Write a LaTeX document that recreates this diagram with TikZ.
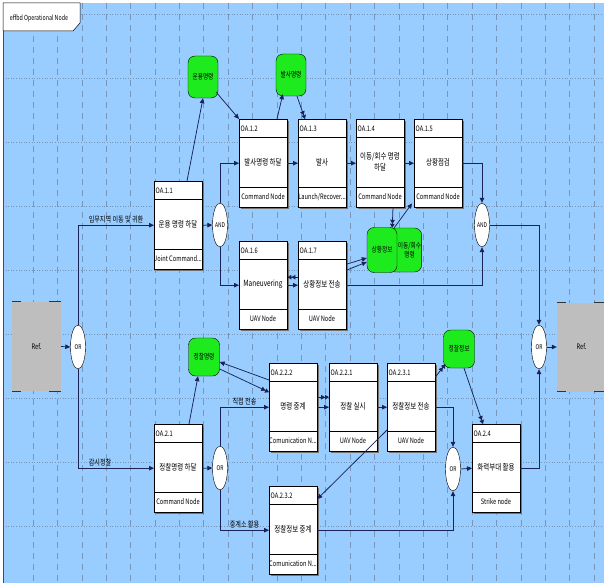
\documentclass[tikz,border=0pt]{standalone}
\usepackage{fontspec}
\setmainfont{Noto Sans CJK KR}[FakeStretch=0.76]
\usetikzlibrary{arrows.meta,shapes.geometric,calc}
\definecolor{bg}{RGB}{153,204,255}
\definecolor{gridc}{RGB}{120,150,185}
\definecolor{linec}{RGB}{25,35,85}
\definecolor{gr}{RGB}{30,235,30}
\definecolor{refc}{RGB}{190,190,190}
\tikzset{
 every node/.style={font=\fontsize{7.5}{8.5}\selectfont, inner sep=0.5pt},
 conn/.style={draw=linec, line width=0.75pt, -{Triangle[length=5pt,width=4.5pt]}},
 conn2/.style={draw=linec, line width=0.75pt, -{Triangle[length=4pt,width=4.5pt]Triangle[length=4pt,width=4.5pt]}},
 gate/.style={ellipse, draw=black, fill=white, minimum width=15pt, minimum height=44pt, inner sep=0pt, font=\fontsize{6.5}{7}\selectfont},
 msg/.style={rounded corners=7pt, draw=black, fill=gr, minimum width=30pt, minimum height=42pt, align=center, font=\fontsize{7.5}{9}\selectfont},
 oabox/.style={draw=black, fill=white, minimum height=88pt, anchor=north west, inner sep=0pt},
 lbl/.style={font=\fontsize{8.5}{10.5}\selectfont},
 edgelbl/.style={font=\fontsize{8}{9}\selectfont},
 reflbl/.style={fill=refc, minimum width=49pt, minimum height=89pt, font=\fontsize{7.5}{8}\selectfont},
 refmark/.style={line width=1.3pt, black!80},
}
% #1 width, #2 name, #3 x, #4 y, #5 header, #6 body, #7 footer
\newcommand{\oabx}[7][48]{%
  \fill[black!55] (#3+2,#4+2) rectangle (#3+#1+2,#4+90);
  \node[oabox, minimum width=#1pt] (#2) at (#3,#4) {};
  \draw (#3,#4+18) -- (#3+#1,#4+18);
  \draw (#3,#4+68) -- (#3+#1,#4+68);
  \node[anchor=west] (#2-h) at (#3+1,#4+9.5) {#5};
  \node[align=center, lbl] (#2-b) at (#3+#1/2,#4+43) {#6};
  \node (#2-f) at (#3+#1/2,#4+78) {#7};
}
\begin{document}
\begin{tikzpicture}[x=1pt,y=-1pt]
\useasboundingbox (0,0) rectangle (604,583);
\clip (0,0) rectangle (604,583);
\fill[white] (0,0) rectangle (604,583);
\fill[bg] (3,3) rectangle (604,583);
% grid
\foreach \i in {1,...,24} \draw[gridc, line width=0.45pt, dash pattern=on 6pt off 5pt] (8.6+24.39*\i,3) -- (8.6+24.39*\i,583);
\foreach \yy in {14,78,142,206,270,334,398,462,526} \draw[gridc, line width=0.6pt, dotted] (3,\yy) -- (604,\yy);
\draw[black!70, line width=0.6pt] (3,583) -- (3,3);
% tab
\draw[fill=white, line width=0.5pt] (3,3) -- (80,3) -- (80,23) -- (73,31) -- (3,31) -- cycle;
\node[font=\fontsize{7}{8}\selectfont] (tab) at (39,18) {effbd Operational Node};

% reference nodes
\node[reflbl] (refL) at (36.5,346.5) {Ref.};
\node[reflbl] (refR) at (581.5,347) {Ref.};
\foreach \r in {refL,refR}{
  \draw[refmark] (\r.north west) -- ++(9,0);
  \draw[refmark] (\r.north east) -- ++(-12,0);
  \draw[refmark] (\r.south west) -- ++(9,0);
  \draw[refmark] (\r.south east) -- ++(-12,0);
}

% gates
\node[gate] (orL) at (78,347) {OR};
\node[gate] (and1) at (220,225) {AND};
\node[gate] (and2) at (482,225) {AND};
\node[gate] (orR) at (539,347) {OR};
\node[gate] (orM) at (220,468) {OR};
\node[gate] (orR3) at (453,469) {OR};

% activity boxes
\oabx{oa11}{154}{181}{OA.1.1}{운용 명령 하달}{Joint Command...}
\oabx{oa12}{239}{119}{OA.1.2}{발사명령 하달}{Command Node}
\oabx{oa13}{298}{119}{OA.1.3}{발사}{Launch/Recover...}
\oabx{oa14}{356}{119}{OA.1.4}{이동/회수 명령\\하달}{Command Node}
\oabx{oa15}{414}{119}{OA.1.5}{상황점검}{Command Node}
\oabx{oa16}{239}{241}{OA.1.6}{Maneuvering}{UAV Node}
\oabx{oa17}{298}{241}{OA.1.7}{상황정보 전송}{UAV Node}
\oabx{oa21}{154}{424}{OA.2.1}{정찰명령 하달}{Command Node}
\oabx{oa222}{269}{363}{OA.2.2.2}{명령 중계}{Comunication N...}
\oabx{oa221}{329}{363}{OA.2.2.1}{정찰 실시}{UAV Node}
\oabx{oa231}{387}{363}{OA.2.3.1}{정찰정보 전송}{UAV Node}
\oabx{oa24}{472}{424}{OA.2.4}{화력부대 활용}{Strike node}
\oabx{oa232}{269}{486}{OA.2.3.2}{정찰정보 중계}{Comunication N...}

% message nodes
\node[msg] (g1) at (203,77) {운용명령};
\node[msg] (g2) at (291,75) {발사명령};
\node[msg, minimum width=28pt, minimum height=44pt] (g3) at (405,250) {\hspace*{9pt}이동/회수\\\hspace*{9pt}명령};
\node[msg, minimum height=45pt] (g4) at (382,250) {상황정보};
\node[msg, minimum width=31pt, minimum height=38pt] (g5) at (204,357) {정찰명령};
\node[msg, minimum width=31pt, minimum height=38pt] (g6) at (459,349) {정찰정보};

% top route
\draw[conn] (refL.east) -- (orL.west);
\draw[conn] (orL.north) |- (oa11.west) node[pos=0.75, above=1pt, edgelbl] (t1) {임무지역 이동 및 귀환};
\draw[conn] (orL.south) |- (oa21.west) node[pos=0.645, above=1pt, edgelbl] (t2) {감시정찰};
\draw[conn] (oa11.east) -- (and1.west);
\draw[conn] (and1.north) |- (oa12.west);
\draw[conn] (and1.south) |- (oa16.west);
\draw[conn] (oa12.east) -- (oa13.west);
\draw[conn] (oa13.east) -- (oa14.west);
\draw[conn] (oa14.east) -- (oa15.west);
\draw[conn] (oa15.east) -| (and2.north);
\draw[conn] (oa17.east) -| (and2.south);
\draw[conn] (and2.east) -| (orR.north);
\draw[conn] (oa24.east) -| (orR.south);
\draw[conn] (orR.east) -- (refR.west);
\draw[conn] (oa16.east) -- (oa17.west);
\draw[conn2] ($(oa17.west)+(0,-8)$) -- ($(oa16.east)+(0,-8)$);

\draw[conn] ($(oa11.north west)+(33,0)$) -- (g1.south);
\draw[conn] ($(g1.south east)+(-2,-6)$) -- (oa12.north west);
\draw[conn] ($(oa12.north west)+(38,0)$) -- ($(g2.south west)+(7,-2)$);
\draw[conn2] ($(g2.south)+(6,0)$) -- ($(oa13.north west)+(7,0)$);
\draw[conn2] ($(oa14.south west)+(37,0)$) -- ($(g3.north west)+(4,0)$);
\draw[conn] ($(g3.north west)+(6,0)$) -- ($(oa15.south west)+(-2,-4)$);
\draw[conn] ($(oa17.east)+(0,-21)$) -- ($(g4.west)+(0,8)$);
\draw[conn] ($(oa17.east)+(0,-15)$) -- ($(g4.west)+(0,12)$);

% bottom route
\draw[conn] ($(oa21.north west)+(35,0)$) -- ($(g5.south)+(-6,0)$);
\draw[conn] ($(oa222.north west)+(0,17)$) -- ($(g5.east)+(0,5)$);
\draw[conn2] ($(g5.east)+(0,12)$) -- ($(oa222.west)+(0,-15)$);
\draw[conn] (oa21.east) -- (orM.west);
\draw[conn] (orM.north) |- (oa222.west) node[pos=0.75, above=1pt, edgelbl] (t3) {직접 전송};
\draw[conn] (orM.south) |- (oa232.west) node[pos=0.75, above=1pt, edgelbl] (t4) {중계소 활용};
\draw[conn2] ($(oa222.east)+(0,-10)$) -- ($(oa221.west)+(0,-10)$);
\draw[conn] (oa222.east) -- (oa221.west);
\draw[conn] (oa221.east) -- (oa231.west);
\draw[conn2] ($(oa231.north east)+(0,14)$) -- ($(g6.south west)+(2,-4)$);
\draw[conn2] ($(g6.south)+(5,0)$) -- ($(oa24.north west)+(11,0)$);
\draw[conn] (oa231.east) -| (orR3.north);
\draw[conn] (oa232.east) -| (orR3.south);
\draw[conn] (orR3.east) -- (oa24.west);
\draw[conn] ($(oa231.north west)+(0,67)$) -- ($(oa232.north east)+(0,13)$);
\end{tikzpicture}
\end{document}
